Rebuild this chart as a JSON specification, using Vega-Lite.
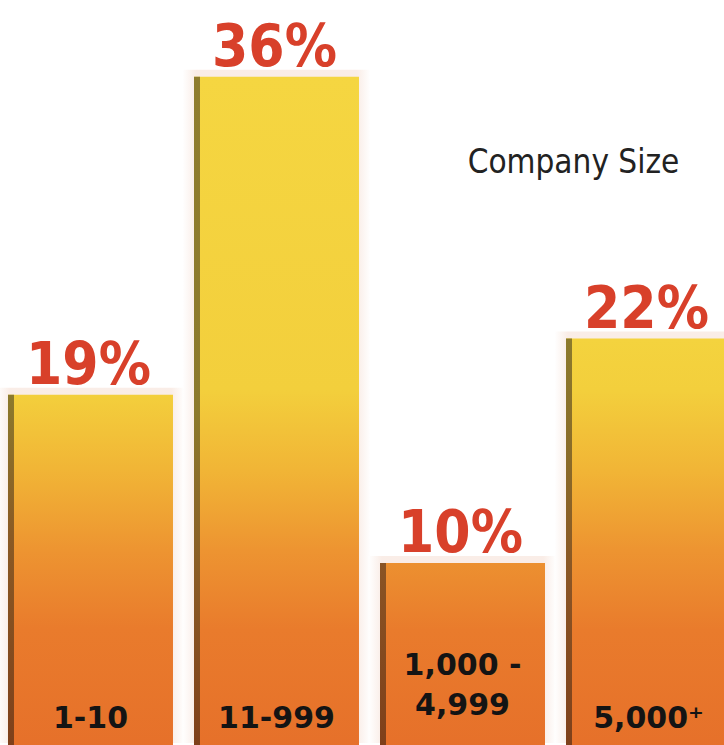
{
  "$schema": "https://vega.github.io/schema/vega-lite/v6.json",
  "width": 724,
  "height": 745,
  "autosize": {"type": "none"},
  "padding": 0,
  "background": "#ffffff",
  "config": {"view": {"stroke": null}},
  "data": {
    "values": [
      {"size": "1-10", "share": 19, "pct": "19%", "label": "1-10"},
      {"size": "11-999", "share": 36, "pct": "36%", "label": "11-999"},
      {"size": "1,000-4,999", "share": 10, "pct": "10%", "label": "1,000 -\n4,999"},
      {"size": "5,000+", "share": 22, "pct": "22%", "label": "5,000⁺"}
    ]
  },
  "encoding": {
    "x": {
      "field": "size",
      "type": "nominal",
      "sort": null,
      "scale": {
        "domain": ["1-10", "11-999", "1,000-4,999", "5,000+"],
        "range": [0, 739],
        "paddingInner": 0.113,
        "paddingOuter": 0.043
      },
      "axis": null
    },
    "y": {
      "field": "share",
      "type": "quantitative",
      "scale": {"domain": [0, 40.1], "range": [750, 0], "nice": false, "zero": true},
      "axis": null
    }
  },
  "layer": [
    {
      "mark": {
        "type": "bar",
        "width": 188,
        "yOffset": -7,
        "opacity": 0.6,
        "color": {
          "gradient": "linear",
          "x1": 0, "y1": 0, "x2": 1, "y2": 0,
          "stops": [
            {"offset": 0, "color": "#ffffff"},
            {"offset": 0.07, "color": "#f6e1d7"},
            {"offset": 0.93, "color": "#f6e1d7"},
            {"offset": 1, "color": "#ffffff"}
          ]
        }
      }
    },
    {
      "transform": [{"filter": "datum.size == '1-10'"}],
      "layer": [
        {
          "mark": {
            "type": "bar",
            "color": {
              "gradient": "linear", "x1": 0, "y1": 0, "x2": 0, "y2": 1,
              "stops": [
                {"offset": 0, "color": "#f3cf3c"},
                {"offset": 0.21, "color": "#f1b536"},
                {"offset": 0.44, "color": "#ed9431"},
                {"offset": 0.66, "color": "#e97b2c"},
                {"offset": 1, "color": "#e6702a"}
              ]
            }
          }
        },
        {
          "mark": {
            "type": "bar", "width": 6, "xOffset": -79.5,
            "color": {
              "gradient": "linear", "x1": 0, "y1": 0, "x2": 0, "y2": 1,
              "stops": [
                {"offset": 0, "color": "#8c7a2c"},
                {"offset": 0.4, "color": "#8a5a24"},
                {"offset": 1, "color": "#7e3f1a"}
              ]
            }
          }
        }
      ]
    },
    {
      "transform": [{"filter": "datum.size == '11-999'"}],
      "layer": [
        {
          "mark": {
            "type": "bar",
            "color": {
              "gradient": "linear", "x1": 0, "y1": 0, "x2": 0, "y2": 1,
              "stops": [
                {"offset": 0, "color": "#f5d641"},
                {"offset": 0.465, "color": "#f3cf3c"},
                {"offset": 0.584, "color": "#f1b536"},
                {"offset": 0.703, "color": "#ed9431"},
                {"offset": 0.822, "color": "#e97b2c"},
                {"offset": 1, "color": "#e6702a"}
              ]
            }
          }
        },
        {
          "mark": {
            "type": "bar", "width": 6, "xOffset": -79.5,
            "color": {
              "gradient": "linear", "x1": 0, "y1": 0, "x2": 0, "y2": 1,
              "stops": [
                {"offset": 0, "color": "#8f7d2e"},
                {"offset": 0.5, "color": "#8c7a2c"},
                {"offset": 0.75, "color": "#8a5a24"},
                {"offset": 1, "color": "#7e3f1a"}
              ]
            }
          }
        }
      ]
    },
    {
      "transform": [{"filter": "datum.size == '1,000-4,999'"}],
      "layer": [
        {
          "mark": {
            "type": "bar",
            "color": {
              "gradient": "linear", "x1": 0, "y1": 0, "x2": 0, "y2": 1,
              "stops": [
                {"offset": 0, "color": "#ec9030"},
                {"offset": 0.36, "color": "#e97b2c"},
                {"offset": 1, "color": "#e6702a"}
              ]
            }
          }
        },
        {
          "mark": {
            "type": "bar", "width": 6, "xOffset": -79.5,
            "color": {
              "gradient": "linear", "x1": 0, "y1": 0, "x2": 0, "y2": 1,
              "stops": [
                {"offset": 0, "color": "#8a5424"},
                {"offset": 1, "color": "#7e3f1a"}
              ]
            }
          }
        }
      ]
    },
    {
      "transform": [{"filter": "datum.size == '5,000+'"}],
      "layer": [
        {
          "mark": {
            "type": "bar",
            "color": {
              "gradient": "linear", "x1": 0, "y1": 0, "x2": 0, "y2": 1,
              "stops": [
                {"offset": 0, "color": "#f4d33e"},
                {"offset": 0.126, "color": "#f3cf3c"},
                {"offset": 0.32, "color": "#f1b536"},
                {"offset": 0.515, "color": "#ed9431"},
                {"offset": 0.709, "color": "#e97b2c"},
                {"offset": 1, "color": "#e6702a"}
              ]
            }
          }
        },
        {
          "mark": {
            "type": "bar", "width": 6, "xOffset": -79.5,
            "color": {
              "gradient": "linear", "x1": 0, "y1": 0, "x2": 0, "y2": 1,
              "stops": [
                {"offset": 0, "color": "#8c7a2c"},
                {"offset": 0.3, "color": "#8a6a28"},
                {"offset": 0.6, "color": "#8a5424"},
                {"offset": 1, "color": "#7e3f1a"}
              ]
            }
          }
        },
        {
          "mark": {
            "type": "text",
            "text": "Company Size",
            "baseline": "alphabetic",
            "align": "center",
            "dx": -75,
            "font": "DejaVu Sans Condensed, DejaVu Sans",
            "fontSize": 33,
            "color": "#222222"
          },
          "encoding": {"y": {"datum": 30.85}}
        }
      ]
    },
    {
      "mark": {
        "type": "text",
        "baseline": "alphabetic",
        "align": "center",
        "dy": -11,
        "dx": -2,
        "font": "DejaVu Sans Condensed, DejaVu Sans",
        "fontWeight": "bold",
        "fontSize": 58,
        "color": "#d8402a"
      },
      "encoding": {"text": {"field": "pct"}}
    },
    {
      "transform": [{"filter": "datum.size != '1,000-4,999'"}],
      "mark": {
        "type": "text",
        "baseline": "alphabetic",
        "align": "center",
        "dy": -22,
        "font": "DejaVu Sans",
        "fontWeight": "bold",
        "fontSize": 30,
        "color": "#141414"
      },
      "encoding": {"y": {"datum": 0}, "text": {"field": "label"}}
    },
    {
      "transform": [{"filter": "datum.size == '1,000-4,999'"}],
      "mark": {
        "type": "text",
        "baseline": "alphabetic",
        "align": "center",
        "dy": -75,
        "lineBreak": "\n",
        "lineHeight": 40,
        "font": "DejaVu Sans",
        "fontWeight": "bold",
        "fontSize": 30,
        "color": "#141414"
      },
      "encoding": {"y": {"datum": 0}, "text": {"field": "label"}}
    }
  ]
}
